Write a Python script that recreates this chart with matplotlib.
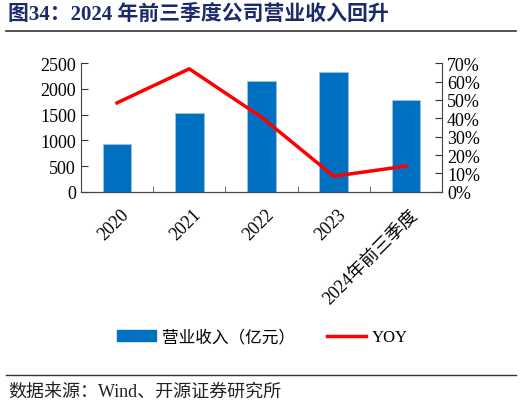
import numpy as np
import matplotlib
matplotlib.use('Agg')
import matplotlib.pyplot as plt
from matplotlib.lines import Line2D
from matplotlib.patches import Patch

plt.rcParams['font.family'] = ['Liberation Serif', 'Noto Sans CJK SC']

years = ['2020', '2021', '2022', '2023', '2024年前三季度']
revenue = [920, 1540, 2150, 2335, 1780]
yoy = [48.4, 66.9, 40.6, 8.5, 14.0]

fig = plt.figure(figsize=(5.22, 4.06), dpi=100)
ax1 = fig.add_axes([0.155, 0.525, 0.692, 0.317])
ax2 = ax1.twinx()

x = np.arange(len(years))
ax1.bar(x, revenue, width=0.4, color='#0070C0', edgecolor='#9DC3E6', linewidth=0.6, zorder=2)
ax2.plot(x, yoy, color='#FF0000', linewidth=2.5, zorder=3)

ax1.set_xlim(-0.5, len(years) - 0.5)
ax1.set_ylim(0, 2500)
ax1.set_yticks(np.arange(0, 2501, 500))
ax2.set_ylim(0, 70)
ax2.set_yticks(np.arange(0, 71, 10))
ax2.set_yticklabels([f'{v}%' for v in range(0, 71, 10)])

ax1.set_xticks(x + 0.05)
ax1.set_xticklabels(years, rotation=45, ha='right', rotation_mode='anchor')
ax1.set_xticks(np.arange(-0.5, len(years), 1), minor=True)
ax1.tick_params(axis='x', which='major', length=0, labelsize=13, pad=10)
ax1.tick_params(axis='x', which='minor', direction='in', length=4, color='#555555')
ax1.tick_params(axis='y', direction='in', length=5, labelsize=13, color='#333333')
ax2.tick_params(axis='y', direction='in', length=5, labelsize=13, color='#333333')

for ax in (ax1, ax2):
    ax.spines['top'].set_visible(False)
    for s in ('left', 'right', 'bottom'):
        ax.spines[s].set_color('#444444')
ax2.spines['left'].set_visible(False)
ax1.spines['right'].set_visible(False)

handles = [Patch(facecolor='#0070C0', edgecolor='#0070C0'),
           Line2D([0], [0], color='#FF0000', linewidth=2.5)]
fig.legend(handles, ['营业收入（亿元）', 'YOY'], loc='center', bbox_to_anchor=(0.503, 0.167),
           ncol=2, frameon=False, fontsize=12, handlelength=2.35, handleheight=0.6,
           handletextpad=0.35, columnspacing=1.9)

fig.text(0.015, 0.963, '图34：2024 年前三季度公司营业收入回升', fontsize=15, fontweight='bold',
         color='#1B2A6B', va='center', ha='left')
fig.add_artist(Line2D([0.012, 0.988], [0.922, 0.922], color='#333333', linewidth=1.2))
fig.add_artist(Line2D([0.012, 0.988], [0.074, 0.074], color='#333333', linewidth=1.0))
fig.text(0.015, 0.035, '数据来源：Wind、开源证券研究所', fontsize=13, color='#222222',
         va='center', ha='left')

fig.savefig('out.png', dpi=100)
